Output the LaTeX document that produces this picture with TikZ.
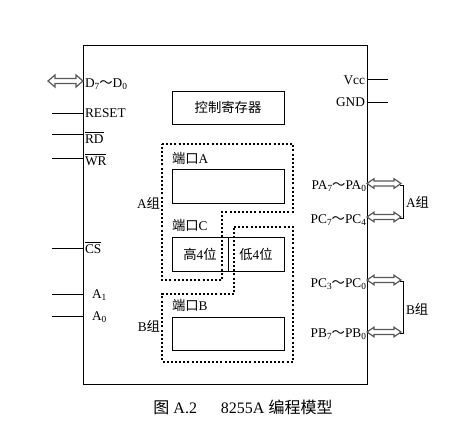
\documentclass[tikz,border=0pt]{standalone}
\usepackage{fontspec}
\setmainfont{Liberation Serif}
\newfontfamily\cjk{Noto Sans CJK SC}
\newcommand\lowsub[1]{\raisebox{-0.45ex}{\scriptsize #1}}
\newcommand\wave{{\cjk ～}}
\newcommand\ovl[1]{$\overline{\mbox{#1}}$}
\newcommand\zh[1]{{\cjk #1}}
\begin{document}
\begin{tikzpicture}[x=0.75pt,y=-0.75pt,
  every node/.style={inner sep=0pt,outer sep=0pt,font=\fontsize{10}{12}\selectfont},
  box/.style={draw,line width=0.6pt},
  dots/.style={draw,line width=0.8pt,dash pattern=on 1.5pt off 1.6pt},
  pin/.style={line width=0.6pt},
  arr/.style={draw=black!65,line width=0.9pt,fill=white,line join=miter},
  lbl/.style={anchor=base west},
  rlbl/.style={anchor=base east}]
\useasboundingbox (0,0) rectangle (471,421);
% main chip
\node[box,minimum width=284*0.75pt,minimum height=339*0.75pt,anchor=north west] (chip) at (83,45) {};
% control register
\node[box,minimum width=112*0.75pt,minimum height=33*0.75pt,anchor=north west] (ctrl) at (172,91) {\zh{控制寄存器}};
% group A dotted outline
\draw[dots] (162,144) -- (293,144) -- (293,212) -- (222,212) -- (222,280) -- (162,280) -- cycle;
% group B dotted outline
\draw[dots] (234,227) -- (293,227) -- (293,362) -- (162,362) -- (162,294) -- (234,294) -- cycle;
% port boxes
\node[box,minimum width=112*0.75pt,minimum height=34*0.75pt,anchor=north west] (pa) at (172,169) {};
\node[box,minimum width=56*0.75pt,minimum height=34*0.75pt,anchor=north west] (ch) at (172,237) {\zh{高}4\zh{位}};
\node[box,minimum width=56*0.75pt,minimum height=34*0.75pt,anchor=north west] (cl) at (228,237) {\zh{低}4\zh{位}};
\node[box,minimum width=112*0.75pt,minimum height=33*0.75pt,anchor=north west] (pb) at (172,317) {};
\node[anchor=west] (lpa) at (172,158) {\zh{端口}A};
\node[anchor=west] (lpc) at (172,225) {\zh{端口}C};
\node[anchor=west] (lpb) at (172,305) {\zh{端口}B};
\node[anchor=east] (ga) at (160,203) {A\zh{组}};
\node[anchor=east] (gb) at (160,326) {B\zh{组}};
% left pins
\foreach \y/\n in {113/reset,134/rd,158/wr,248/cs,294/aa,316/ab}{
  \coordinate (\n) at (52,\y);
  \draw[pin] (\n) -- (\n -| chip.west);
}
\node[lbl] (treset) at (85,117) {RESET};
\node[lbl] (trd) at (85,143) {\ovl{RD}};
\node[lbl] (twr) at (85,165) {\ovl{WR}};
\node[lbl] (tcs) at (85,253) {\ovl{CS}};
\node[lbl] (ta1) at (92,298) {A\lowsub{1}};
\node[lbl] (ta0) at (92,320) {A\lowsub{0}};
\node[lbl] (td) at (85,87) {D\lowsub{7}\wave D\lowsub{0}};
% right pins
\coordinate (vcc) at (388,79);
\coordinate (gnd) at (388,102);
\draw[pin] (vcc) -- (vcc -| chip.east);
\draw[pin] (gnd) -- (gnd -| chip.east);
\node[rlbl] (tvcc) at (365,84) {Vcc};
\node[rlbl] (tgnd) at (365,106) {GND};
\node[rlbl] (tpa) at (366,189) {PA\lowsub{7}\wave PA\lowsub{0}};
\node[rlbl] (tpc1) at (366,223) {PC\lowsub{7}\wave PC\lowsub{4}};
\node[rlbl] (tpc2) at (366,287) {PC\lowsub{3}\wave PC\lowsub{0}};
\node[rlbl] (tpb) at (366,337) {PB\lowsub{7}\wave PB\lowsub{0}};
% double arrows
\foreach \xa/\xb/\y/\w in {48/83/81/6,367/401/183.5/4.8,367/401/217/4.8,367/401/280/4.8,367/401/332/4.8}{
  \draw[arr] (\xa,\y) -- (\xa+7,\y-\w) -- (\xa+7,\y-2.5) -- (\xb-7,\y-2.5) -- (\xb-7,\y-\w)
    -- (\xb,\y) -- (\xb-7,\y+\w) -- (\xb-7,\y+2.5) -- (\xa+7,\y+2.5) -- (\xa+7,\y+\w) -- cycle;
}
% brackets
\draw[pin] (400,185) -- (403.5,185) -- (403.5,218) -- (400,218);
\draw[pin] (400,281) -- (403.5,281) -- (403.5,333) -- (400,333);
\node[anchor=west] (ra) at (406,202) {A\zh{组}};
\node[anchor=west] (rb) at (406,309) {B\zh{组}};
% caption
\node[anchor=base,font=\fontsize{12}{14}\selectfont] (cap) at (243,413) {\zh{图} A.2\hspace{1.5em}8255A \zh{编程模型}};
\end{tikzpicture}
\end{document}
